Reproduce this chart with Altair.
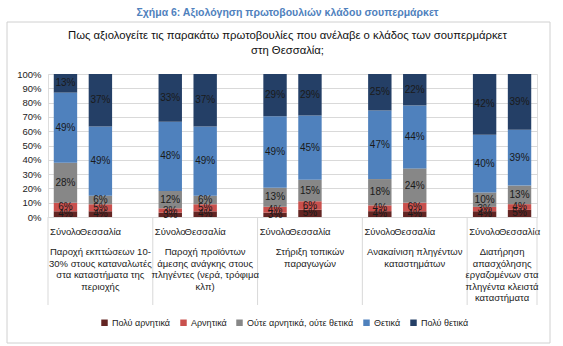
import altair as alt
import pandas as pd

FONT = "Liberation Sans"

groups = [
    "Παροχή εκπτώσεων 10-\n30% στους καταναλωτές\nστα καταστήματα της\nπεριοχής",
    "Παροχή προϊόντων\nάμεσης ανάγκης στους\nπληγέντες (νερά, τρόφιμα\nκλπ)",
    "Στήριξη τοπικών\nπαραγωγών",
    "Ανακαίνιση πληγέντων\nκαταστημάτων",
    "Διατήρηση\nαπασχόλησης\nεργαζομένων στα\nπληγέντα κλειστά\nκαταστήματα",
]
subgroups = ["Σύνολο", "Θεσσαλία"]
answers = ["Πολύ αρνητικά", "Αρνητικά", "Ούτε αρνητικά, ούτε θετικά", "Θετικά", "Πολύ θετικά"]
colors = ["#632523", "#C9504D", "#878787", "#4F81BD", "#243F66"]
y_ticks = [0, 10, 20, 30, 40, 50, 60, 70, 80, 90, 100]

# order: group1 Σύνολο, group1 Θεσσαλία, group2 Σύνολο, ...
poly_arnitika = [4, 4, 3, 4, 3, 5, 4, 4, 4, 5]
arnitika = [6, 5, 3, 5, 4, 6, 4, 6, 3, 4]
oute = [28, 6, 12, 6, 13, 15, 18, 24, 10, 13]
thetika = [49, 49, 48, 49, 49, 45, 47, 44, 40, 39]
poly_thetika = [13, 37, 33, 37, 29, 29, 25, 22, 42, 39]
series = [poly_arnitika, arnitika, oute, thetika, poly_thetika]

# slot domain: two bars per group plus an empty slot between groups
slots = []
group_bounds = []
for gi in range(len(groups)):
    start = len(slots)
    for s in subgroups:
        slots.append(f"{gi}|{s}")
    if gi < len(groups) - 1:
        slots.append(f"{gi}|")
    group_bounds.append((start, len(slots)))

rows = []
for gi in range(len(groups)):
    for si, s in enumerate(subgroups):
        k = gi * len(subgroups) + si
        for ai, a in enumerate(answers):
            rows.append({"slot": f"{gi}|{s}", "answer": a, "order": ai, "value": series[ai][k]})
df = pd.DataFrame(rows)

glabels = pd.DataFrame({
    "center": [(a + b) / 2 for a, b in group_bounds],
    "name": groups,
})
dividers = pd.DataFrame({"pos": sorted({a for a, b in group_bounds} | {b for a, b in group_bounds})})

W, H = 489, 143

xscale = alt.Scale(domain=slots, paddingInner=0.33, paddingOuter=0.165)
yscale = alt.Scale(domain=[0, 1])

xaxis = alt.Axis(
    title=None, labelExpr="split(datum.value, '|')[1]", labelAngle=0,
    ticks=False, domain=False, labelPadding=9, labelFont=FONT,
    labelFontSize=9.5, labelColor="#222", labelOverlap=False,
)
yaxis = alt.Axis(
    title=None, format=".0%", values=[v / 100 for v in y_ticks],
    grid=True, gridColor="#d9d9d9", domain=False, ticks=False,
    labelPadding=7, labelFont=FONT, labelFontSize=9.5, labelColor="#222",
    labelOverlap=False, labelBound=False, labelFlush=False,
)

base = alt.Chart(df).transform_stack(
    stack="value", groupby=["slot"], as_=["y0", "y1"], offset="normalize",
    sort=[alt.SortField("order", order="ascending")],
).transform_calculate(
    mid="(datum.y0 + datum.y1) / 2", label="datum.value + '%'"
)

bars = base.mark_bar().encode(
    x=alt.X("slot:N", scale=xscale, axis=xaxis),
    y=alt.Y("y0:Q", scale=yscale, axis=yaxis),
    y2="y1:Q",
    color=alt.Color(
        "answer:N", scale=alt.Scale(domain=answers, range=colors),
        legend=alt.Legend(
            title=None, orient="none", legendX=52, legendY=244, direction="horizontal",
            symbolType="square", symbolSize=42, symbolStrokeWidth=0,
            labelFont=FONT, labelFontSize=9, labelColor="#222",
            columnPadding=8, labelOffset=3,
        ),
    ),
)

texts = base.mark_text(font=FONT, fontSize=10, color="#1a1a1a").encode(
    x=alt.X("slot:N", scale=xscale, axis=xaxis),
    y=alt.Y("mid:Q", scale=yscale, axis=yaxis),
    text="label:N",
)

xq = alt.Scale(domain=[0, len(slots)])

rules = alt.Chart(dividers).mark_rule(color="#d9d9d9", strokeWidth=1).encode(
    x=alt.X("pos:Q", scale=xq, axis=None),
    y=alt.value(H),
    y2=alt.value(H + 88),
)

gtext = alt.Chart(glabels).mark_text(
    font=FONT, fontSize=9.5, color="#222", baseline="top", lineBreak="\n", lineHeight=11.5,
).encode(
    x=alt.X("center:Q", scale=xq, axis=None),
    y=alt.value(H + 30),
    text="name:N",
)

frame = alt.Chart(pd.DataFrame({"a": [0]})).mark_rect(
    fill="white", fillOpacity=0, stroke="#d0d0d0", strokeWidth=1
).encode(
    x=alt.value(-41), x2=alt.value(502), y=alt.value(-52), y2=alt.value(269)
)

main = alt.layer(bars, texts)
chart = alt.layer(frame, main, rules, gtext).resolve_scale(x="independent").properties(
    width=W, height=H,
    autosize=alt.AutoSizeParams(type="none"),
    padding={"left": 48, "top": 74, "right": 26, "bottom": 129},
    title=alt.TitleParams(
        text="Σχήμα 6: Αξιολόγηση πρωτοβουλιών κλάδου σουπερμάρκετ",
        subtitle=["Πως αξιολογείτε τις παρακάτω πρωτοβουλίες που ανέλαβε ο κλάδος των σουπερμάρκετ",
                  "στη Θεσσαλία;"],
        font=FONT, fontSize=10.5, fontWeight="bold", color="#4F81BD",
        subtitleFont=FONT, subtitleFontSize=11.3, subtitleColor="#111",
        subtitlePadding=12, subtitleLineHeight=15,
        anchor="middle", offset=-35, dx=-5,
    ),
).configure_view(stroke=None).configure(background="white")

chart.save("out.html", embed_options={"renderer": "svg", "actions": False})
